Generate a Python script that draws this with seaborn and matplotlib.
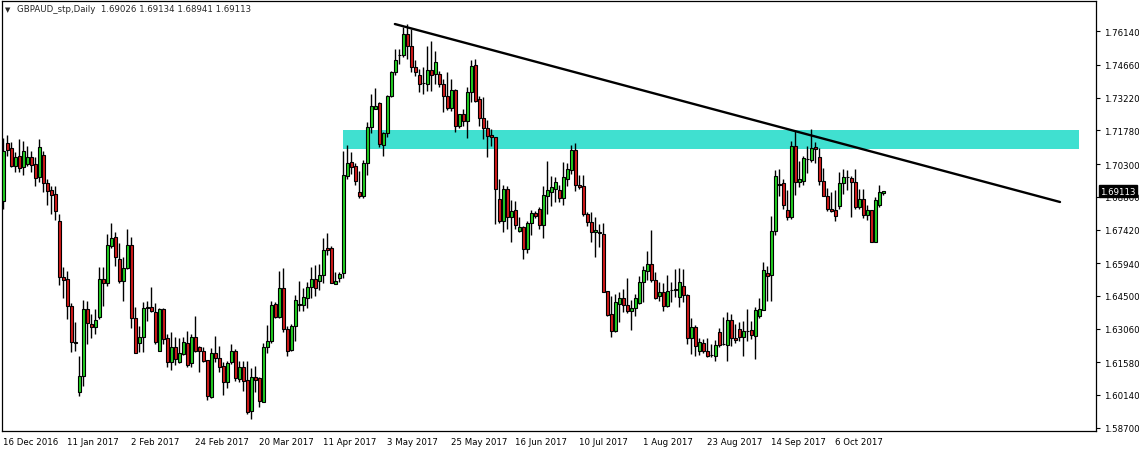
import numpy as np
import matplotlib
matplotlib.use("Agg")
import matplotlib.pyplot as plt
import seaborn as sns

# Daily OHLC values (GBPAUD, Dec 2016 - Oct 2017)
opens = [
    1.6869, 1.7122, 1.7099, 1.7023, 1.7064, 1.7015, 1.7030, 1.7059, 1.7030, 1.6971,
    1.7070, 1.6945, 1.6916, 1.6898, 1.6778, 1.6531, 1.6524, 1.6406, 1.6245, 1.6025,
    1.6098, 1.6392, 1.6326, 1.6314, 1.6358, 1.6524, 1.6505, 1.6671, 1.6707, 1.6612,
    1.6516, 1.6571, 1.6673, 1.6351, 1.6241, 1.6267, 1.6395, 1.6399, 1.6377, 1.6208,
    1.6392, 1.6263, 1.6157, 1.6227, 1.6160, 1.6194, 1.6241, 1.6153, 1.6267, 1.6223,
    1.6209, 1.6167, 1.6006, 1.6197, 1.6175, 1.6142, 1.6069, 1.6157, 1.6206, 1.6084,
    1.6135, 1.6079, 1.5942, 1.6091, 1.6087, 1.5984, 1.6223, 1.6253, 1.6414, 1.6355,
    1.6483, 1.6304, 1.6211, 1.6316, 1.6412, 1.6412, 1.6439, 1.6487, 1.6524, 1.6517,
    1.6543, 1.6659, 1.6659, 1.6502, 1.6527, 1.6549, 1.6979, 1.7037, 1.7020, 1.6908,
    1.6891, 1.7034, 1.7191, 1.7272, 1.7298, 1.7114, 1.7166, 1.7328, 1.7433, 1.7511,
    1.7511, 1.7602, 1.7551, 1.7455, 1.7422, 1.7385, 1.7382, 1.7444, 1.7426, 1.7426,
    1.7382, 1.7328, 1.7275, 1.7356, 1.7196, 1.7250, 1.7221, 1.7345, 1.7466, 1.7316,
    1.7231, 1.7187, 1.7158, 1.7147, 1.6876, 1.6781, 1.6920, 1.6798, 1.6828, 1.6737,
    1.6751, 1.6656, 1.6769, 1.6813, 1.6832, 1.6762, 1.6891, 1.6909, 1.6920, 1.6916,
    1.6879, 1.6964, 1.7005, 1.7092, 1.6938, 1.6932, 1.6810, 1.6773, 1.6729, 1.6732,
    1.6722, 1.6470, 1.6370, 1.6294, 1.6414, 1.6440, 1.6410, 1.6382, 1.6395, 1.6417,
    1.6509, 1.6561, 1.6590, 1.6520, 1.6451, 1.6465, 1.6407, 1.6477, 1.6477, 1.6443,
    1.6495, 1.6454, 1.6263, 1.6311, 1.6206, 1.6242, 1.6206, 1.6189, 1.6187, 1.6289,
    1.6237, 1.6234, 1.6344, 1.6263, 1.6304, 1.6268, 1.6297, 1.6300, 1.6275, 1.6360,
    1.6389, 1.6550, 1.6541, 1.6734, 1.6942, 1.6945, 1.6827, 1.6798, 1.7108, 1.6952,
    1.6957, 1.7052, 1.7049, 1.7103, 1.7059, 1.6954, 1.6888, 1.6832, 1.6827, 1.6847,
    1.6945, 1.6971, 1.6967, 1.6949, 1.6839, 1.6876, 1.6807, 1.6827, 1.6688, 1.6850,
    1.69026,
]
highs = [
    1.7143, 1.7158, 1.7128, 1.7081, 1.7140, 1.7130, 1.7111, 1.7089, 1.7059, 1.7140,
    1.7089, 1.6964, 1.6935, 1.6932, 1.6810, 1.6575, 1.6559, 1.6418, 1.6336, 1.6186,
    1.6431, 1.6428, 1.6370, 1.6392, 1.6575, 1.6575, 1.6722, 1.6770, 1.6729, 1.6682,
    1.6619, 1.6744, 1.6709, 1.6399, 1.6316, 1.6421, 1.6428, 1.6487, 1.6418, 1.6395,
    1.6396, 1.6282, 1.6289, 1.6267, 1.6263, 1.6267, 1.6296, 1.6282, 1.6363, 1.6230,
    1.6223, 1.6167, 1.6219, 1.6275, 1.6228, 1.6157, 1.6165, 1.6238, 1.6216, 1.6162,
    1.6162, 1.6164, 1.6132, 1.6140, 1.6095, 1.6242, 1.6321, 1.6429, 1.6424, 1.6561,
    1.6571, 1.6319, 1.6326, 1.6455, 1.6517, 1.6483, 1.6509, 1.6575, 1.6587, 1.6590,
    1.6704, 1.6726, 1.6668, 1.6556, 1.6556, 1.7089, 1.7114, 1.7084, 1.7034, 1.6998,
    1.7049, 1.7213, 1.7338, 1.7364, 1.7304, 1.7169, 1.7334, 1.7441, 1.7536, 1.7536,
    1.7631, 1.7646, 1.7624, 1.7488, 1.7448, 1.7455, 1.7551, 1.7573, 1.7529, 1.7441,
    1.7404, 1.7436, 1.7404, 1.7360, 1.7250, 1.7272, 1.7367, 1.7489, 1.7492, 1.7328,
    1.7323, 1.7224, 1.7184, 1.7150, 1.6964, 1.6939, 1.6935, 1.6872, 1.6866, 1.6795,
    1.6759, 1.6781, 1.6828, 1.6825, 1.6839, 1.6935, 1.7045, 1.6976, 1.6971, 1.6938,
    1.7037, 1.7033, 1.7114, 1.7122, 1.6982, 1.6982, 1.6817, 1.6817, 1.6795, 1.6766,
    1.6770, 1.6473, 1.6451, 1.6458, 1.6465, 1.6480, 1.6528, 1.6433, 1.6458, 1.6539,
    1.6583, 1.6649, 1.6740, 1.6553, 1.6512, 1.6506, 1.6542, 1.6512, 1.6568, 1.6571,
    1.6568, 1.6458, 1.6351, 1.6322, 1.6263, 1.6260, 1.6265, 1.6238, 1.6257, 1.6307,
    1.6355, 1.6378, 1.6370, 1.6326, 1.6333, 1.6341, 1.6392, 1.6341, 1.6399, 1.6439,
    1.6600, 1.6583, 1.6800, 1.7005, 1.7008, 1.6964, 1.6917, 1.7130, 1.7174, 1.7045,
    1.7067, 1.7111, 1.7184, 1.7125, 1.7099, 1.7011, 1.6923, 1.6905, 1.6917, 1.6996,
    1.7008, 1.7005, 1.6976, 1.7008, 1.6920, 1.6920, 1.6850, 1.6827, 1.6883, 1.6938,
    1.69134,
]
lows = [
    1.6832, 1.7067, 1.7015, 1.6996, 1.6996, 1.6982, 1.7023, 1.6993, 1.6935, 1.6949,
    1.6908, 1.6850, 1.6810, 1.6785, 1.6499, 1.6440, 1.6348, 1.6201, 1.6208, 1.6010,
    1.6054, 1.6238, 1.6263, 1.6282, 1.6348, 1.6404, 1.6494, 1.6660, 1.6583, 1.6505,
    1.6428, 1.6568, 1.6307, 1.6197, 1.6201, 1.6201, 1.6340, 1.6377, 1.6238, 1.6208,
    1.6238, 1.6138, 1.6125, 1.6147, 1.6154, 1.6189, 1.6139, 1.6135, 1.6201, 1.6113,
    1.6157, 1.5993, 1.6000, 1.6157, 1.6116, 1.6015, 1.6043, 1.6150, 1.6076, 1.6073,
    1.6032, 1.5930, 1.5908, 1.6025, 1.5959, 1.5981, 1.6198, 1.6242, 1.6351, 1.6351,
    1.6289, 1.6184, 1.6206, 1.6250, 1.6385, 1.6385, 1.6395, 1.6439, 1.6451, 1.6477,
    1.6506, 1.6631, 1.6505, 1.6502, 1.6509, 1.6527, 1.6964, 1.6986, 1.6939, 1.6879,
    1.6880, 1.6983, 1.7166, 1.7272, 1.7103, 1.7067, 1.7147, 1.7323, 1.7423, 1.7470,
    1.7499, 1.7492, 1.7433, 1.7419, 1.7345, 1.7338, 1.7353, 1.7353, 1.7382, 1.7367,
    1.7257, 1.7269, 1.7265, 1.7169, 1.7187, 1.7199, 1.7143, 1.7301, 1.7301, 1.7199,
    1.7140, 1.7059, 1.7111, 1.6766, 1.6771, 1.6729, 1.6744, 1.6685, 1.6744, 1.6732,
    1.6612, 1.6638, 1.6718, 1.6792, 1.6744, 1.6704, 1.6810, 1.6847, 1.6861, 1.6861,
    1.6850, 1.6935, 1.6986, 1.6913, 1.6920, 1.6803, 1.6759, 1.6688, 1.6619, 1.6666,
    1.6468, 1.6363, 1.6267, 1.6289, 1.6336, 1.6377, 1.6374, 1.6301, 1.6363, 1.6414,
    1.6424, 1.6520, 1.6509, 1.6436, 1.6429, 1.6385, 1.6399, 1.6424, 1.6443, 1.6399,
    1.6421, 1.6238, 1.6194, 1.6187, 1.6191, 1.6198, 1.6179, 1.6179, 1.6165, 1.6223,
    1.6234, 1.6165, 1.6231, 1.6242, 1.6253, 1.6187, 1.6253, 1.6260, 1.6172, 1.6352,
    1.6389, 1.6429, 1.6428, 1.6719, 1.6891, 1.6832, 1.6785, 1.6788, 1.6895, 1.6927,
    1.6938, 1.6990, 1.7037, 1.7034, 1.6938, 1.6891, 1.6825, 1.6817, 1.6781, 1.6832,
    1.6898, 1.6917, 1.6795, 1.6832, 1.6832, 1.6792, 1.6785, 1.6688, 1.6685, 1.6839,
    1.68941,
]
closes = [
    1.7089, 1.7093, 1.7023, 1.7059, 1.7011, 1.7086, 1.7059, 1.7027, 1.6967, 1.7103,
    1.6945, 1.6913, 1.6895, 1.6825, 1.6531, 1.6521, 1.6404, 1.6245, 1.6243, 1.6098,
    1.6392, 1.6329, 1.6314, 1.6343, 1.6524, 1.6505, 1.6673, 1.6703, 1.6619, 1.6516,
    1.6571, 1.6673, 1.6351, 1.6197, 1.6267, 1.6395, 1.6399, 1.6382, 1.6248, 1.6392,
    1.6260, 1.6157, 1.6227, 1.6172, 1.6197, 1.6245, 1.6147, 1.6267, 1.6208, 1.6208,
    1.6165, 1.6011, 1.6197, 1.6178, 1.6138, 1.6072, 1.6153, 1.6206, 1.6088, 1.6135,
    1.6076, 1.5940, 1.6091, 1.6081, 1.5986, 1.6223, 1.6253, 1.6412, 1.6355, 1.6483,
    1.6304, 1.6206, 1.6316, 1.6432, 1.6412, 1.6443, 1.6487, 1.6524, 1.6483, 1.6542,
    1.6653, 1.6653, 1.6505, 1.6514, 1.6546, 1.6982, 1.7034, 1.7018, 1.6957, 1.6891,
    1.7034, 1.7191, 1.7284, 1.7287, 1.7118, 1.7166, 1.7328, 1.7433, 1.7488, 1.7511,
    1.7602, 1.7551, 1.7455, 1.7436, 1.7382, 1.7385, 1.7444, 1.7423, 1.7480, 1.7382,
    1.7328, 1.7275, 1.7356, 1.7196, 1.7250, 1.7221, 1.7345, 1.7460, 1.7309, 1.7231,
    1.7187, 1.7155, 1.7147, 1.6920, 1.6781, 1.6920, 1.6795, 1.6822, 1.6762, 1.6751,
    1.6656, 1.6770, 1.6813, 1.6803, 1.6762, 1.6894, 1.6916, 1.6927, 1.6952, 1.6880,
    1.6971, 1.7008, 1.7092, 1.6939, 1.6927, 1.6810, 1.6776, 1.6729, 1.6739, 1.6725,
    1.6468, 1.6367, 1.6297, 1.6421, 1.6440, 1.6410, 1.6385, 1.6396, 1.6440, 1.6509,
    1.6564, 1.6590, 1.6520, 1.6439, 1.6465, 1.6407, 1.6473, 1.6477, 1.6479, 1.6509,
    1.6454, 1.6263, 1.6311, 1.6231, 1.6245, 1.6206, 1.6187, 1.6189, 1.6234, 1.6235,
    1.6237, 1.6344, 1.6265, 1.6256, 1.6268, 1.6294, 1.6297, 1.6279, 1.6388, 1.6392,
    1.6564, 1.6539, 1.6734, 1.6976, 1.6937, 1.6850, 1.6798, 1.7108, 1.6949, 1.6964,
    1.7055, 1.7052, 1.7099, 1.7096, 1.6957, 1.6891, 1.6832, 1.6825, 1.6803, 1.6945,
    1.6971, 1.6971, 1.6952, 1.6839, 1.6876, 1.6807, 1.6827, 1.6688, 1.6872, 1.6905,
    1.69113,
]

# date labels every 16 bars
date_labels = ["16 Dec 2016", "11 Jan 2017", "2 Feb 2017", "24 Feb 2017", "20 Mar 2017",
               "11 Apr 2017", "3 May 2017", "25 May 2017", "16 Jun 2017", "10 Jul 2017",
               "1 Aug 2017", "23 Aug 2017", "14 Sep 2017", "6 Oct 2017"]
date_bars = [0, 16, 32, 48, 64, 80, 96, 112, 128, 144, 160, 176, 192, 208]

price_ticks = [1.58700, 1.60140, 1.61580, 1.63060, 1.64500, 1.65940, 1.67420,
               1.68860, 1.70300, 1.71780, 1.73220, 1.74660, 1.76140]

# resistance zone and trendline drawn on the chart
zone_bars = [84.85, 268.9]
zone_low, zone_high = 1.7096, 1.7180
trend_bars = [97.9, 264.2]
trend_prices = [1.7646, 1.6863]

title_text = "GBPAUD_stp,Daily  1.69026 1.69134 1.68941 1.69113"

sns.set_style("white")
plt.rcParams['font.family'] = ['DejaVu Sans']
fs = 6.2

W, H = 1139, 452
fig = plt.figure(figsize=(W / 100, H / 100), dpi=100)
ax = fig.add_axes([2 / W, 20 / H, 1094 / W, 430 / H])

o = np.array(opens)
c = np.array(closes)
hi = np.array(highs)
lo = np.array(lows)
x = np.arange(len(c))
up = c >= o
body_lo = np.minimum(o, c)
body_h = np.maximum(np.abs(c - o), 0.00004)
colors = np.where(up, '#22d022', '#d21a1a')

# zone behind the candles
ax.fill_between(zone_bars, zone_low, zone_high, color='#40e0d0', lw=0, zorder=1)

ax.vlines(x, lo, hi, color='black', lw=1.0, zorder=2)
ax.bar(x, body_h, bottom=body_lo, width=0.68, color=colors,
       edgecolor='black', linewidth=0.8, zorder=3)

sns.lineplot(x=trend_bars, y=trend_prices, color='black', lw=1.7, ax=ax, zorder=4)

ax.set_xlim(-0.33, 273.2)
ax.set_ylim(1.58555, 1.77473)

ax.yaxis.tick_right()
ax.set_yticks(price_ticks, [f"{v:.5f}" for v in price_ticks], fontsize=fs)
ax.set_xticks(date_bars, date_labels, fontsize=fs, ha='left')
ax.tick_params(axis='both', direction='out', length=3, width=0.8, color='black',
               pad=2, labelcolor='black')
ax.tick_params(axis='x', pad=1.5)
ax.tick_params(axis='y', pad=2.5)
for s in ax.spines.values():
    s.set_visible(True)
    s.set_color('black')
    s.set_linewidth(0.9)

# current price tag on the price scale
ax.annotate(f"{closes[-1]:.5f}", xy=(1.0, closes[-1]), xycoords=('axes fraction', 'data'),
            xytext=(3.2, 0), textcoords='offset points', ha='left', va='center',
            color='white', fontsize=fs, zorder=10,
            bbox=dict(boxstyle='square,pad=0.15', facecolor='black', edgecolor='black'))

fig.text(5 / W, 1 - 10 / H, "\u25bc", fontsize=5, va='center', ha='left')
fig.text(17 / W, 1 - 10 / H, title_text, fontsize=fs, va='center', ha='left')

fig.savefig("out.png", dpi=100)
